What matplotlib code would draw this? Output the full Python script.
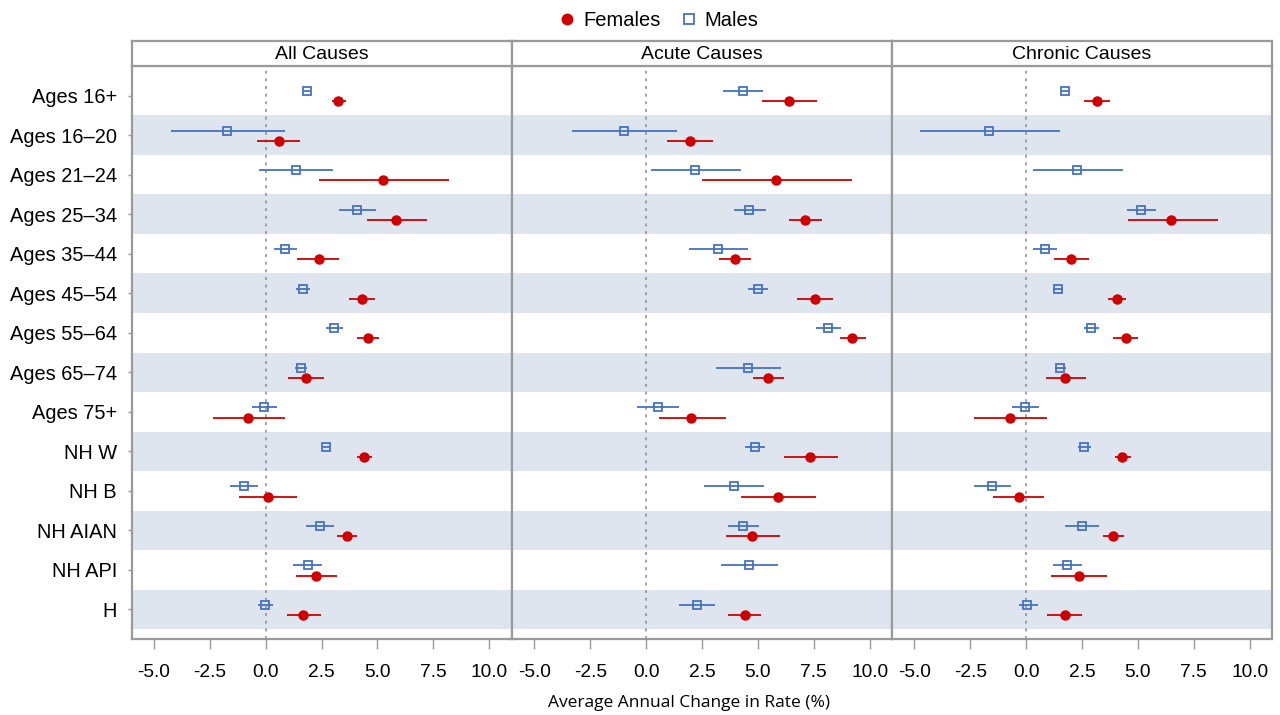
import numpy as np
import matplotlib.pyplot as plt
from matplotlib.lines import Line2D

groups = ["Ages 16+", "Ages 16–20", "Ages 21–24", "Ages 25–34", "Ages 35–44", "Ages 45–54",
          "Ages 55–64", "Ages 65–74", "Ages 75+", "NH W", "NH B", "NH AIAN", "NH API", "H"]
panels = ["All Causes", "Acute Causes", "Chronic Causes"]

# average annual change (%) with 95% CI; nan = not shown
all_f = [3.25, 0.6, 5.23, 5.84, 2.37, 4.29, 4.58, 1.8, -0.79, 4.41, 0.09, 3.62, 2.25, 1.69]
all_f_lo = [2.97, -0.39, 2.40, 4.52, 1.42, 3.74, 4.08, 0.98, -2.37, 4.11, -1.19, 3.2, 1.37, 0.94]
all_f_hi = [3.58, 1.55, 8.20, 7.21, 3.28, 4.9, 5.07, 2.62, 0.87, 4.74, 1.4, 4.08, 3.19, 2.49]
all_m = [1.83, -1.71, 1.34, 4.11, 0.87, 1.66, 3.07, 1.57, -0.06, 2.71, -0.97, 2.43, 1.88, -0.03]
all_m_lo = [1.68, -4.22, -0.28, 3.3, 0.36, 1.36, 2.7, 1.3, -0.63, 2.55, -1.59, 1.82, 1.24, -0.36]
all_m_hi = [1.98, 0.87, 3.01, 4.96, 1.39, 1.98, 3.46, 1.85, 0.51, 2.89, -0.33, 3.06, 2.52, 0.33]

acute_f = [6.41, 1.98, 5.8, 7.12, 3.98, 7.57, 9.22, 5.45, 2.03, 7.35, 5.9, 4.75, np.nan, 4.41]
acute_f_lo = [5.19, 0.95, 2.52, 6.41, 3.28, 6.75, 8.66, 4.8, 0.57, 6.17, 4.26, 3.56, np.nan, 3.68]
acute_f_hi = [7.63, 2.98, 9.21, 7.87, 4.68, 8.37, 9.82, 6.16, 3.58, 8.57, 7.6, 5.97, np.nan, 5.13]
acute_m = [4.32, -1.0, 2.2, 4.62, 3.2, 4.99, 8.15, 4.56, 0.52, 4.86, 3.93, 4.35, 4.6, 2.28]
acute_m_lo = [3.46, -3.32, 0.22, 3.92, 1.91, 4.57, 7.61, 3.13, -0.4, 4.43, 2.59, 3.67, 3.37, 1.48]
acute_m_hi = [5.22, 1.37, 4.23, 5.35, 4.54, 5.44, 8.7, 6.03, 1.48, 5.31, 5.29, 5.04, 5.89, 3.1]

chronic_f = [3.19, np.nan, np.nan, 6.5, 2.03, 4.07, 4.45, 1.76, -0.73, 4.29, -0.34, 3.9, 2.35, 1.76]
chronic_f_lo = [2.61, np.nan, np.nan, 4.56, 1.25, 3.68, 3.89, 0.91, -2.34, 3.99, -1.46, 3.46, 1.12, 0.94]
chronic_f_hi = [3.74, np.nan, np.nan, 8.57, 2.8, 4.47, 4.99, 2.67, 0.92, 4.68, 0.82, 4.37, 3.61, 2.52]
chronic_m = [1.73, -1.68, 2.29, 5.14, 0.85, 1.42, 2.92, 1.53, -0.03, 2.61, -1.52, 2.5, 1.85, 0.06]
chronic_m_lo = [1.58, -4.75, 0.3, 4.5, 0.33, 1.21, 2.6, 1.28, -0.61, 2.31, -2.31, 1.74, 1.21, -0.34]
chronic_m_hi = [1.88, 1.51, 4.34, 5.8, 1.4, 1.63, 3.28, 1.8, 0.57, 2.9, -0.69, 3.28, 2.49, 0.52]

female_sets = [(all_f, all_f_lo, all_f_hi), (acute_f, acute_f_lo, acute_f_hi),
               (chronic_f, chronic_f_lo, chronic_f_hi)]
male_sets = [(all_m, all_m_lo, all_m_hi), (acute_m, acute_m_lo, acute_m_hi),
             (chronic_m, chronic_m_lo, chronic_m_hi)]

red = "#d00000"
blue = "#4472c4"
band = "#dfe5ef"
edge = "#9a9a9a"
plt.rcParams["font.family"] = ["Liberation Sans", "DejaVu Sans"]

fig = plt.figure(figsize=(12.8, 7.15), dpi=100)
y = np.arange(len(groups))
lefts = [131.5, 512, 892]
pw = 380
bottom, top = 639, 66

for k in range(3):
    ax = fig.add_axes([lefts[k] / 1280, 1 - bottom / 715, pw / 1280, (bottom - top) / 715])
    for i in range(1, len(groups), 2):
        ax.axhspan(i - 0.5, i + 0.5, color=band, lw=0, zorder=0)
    ax.axvline(0, color="#8c8c8c", ls=(0, (2, 3)), lw=1.1, zorder=1)

    f, flo, fhi = [np.array(a, dtype=float) for a in female_sets[k]]
    m, mlo, mhi = [np.array(a, dtype=float) for a in male_sets[k]]
    ym = y - 0.11
    yf = y + 0.145
    ax.hlines(ym, mlo, mhi, color=blue, lw=1.3, zorder=2)
    ax.plot(m, ym, ls="none", marker="s", ms=6, mfc="none", mec=blue, mew=1.3, zorder=3)
    ax.hlines(yf, flo, fhi, color=red, lw=1.3, zorder=2)
    ax.plot(f, yf, ls="none", marker="o", ms=6.5, color=red, zorder=3)

    ax.set_xlim(-6, 11)
    ax.set_ylim(len(groups) - 0.25, -0.75)
    ax.set_xticks([-5, -2.5, 0, 2.5, 5, 7.5, 10])
    ax.set_xticklabels(["%.1f" % v for v in [-5, -2.5, 0, 2.5, 5, 7.5, 10]], fontsize=13.8)
    ax.tick_params(axis="x", length=7, width=1, color=edge, pad=11)
    ax.set_yticks(y)
    if k == 0:
        ax.set_yticklabels(groups, fontsize=14.4)
        ax.tick_params(axis="y", length=3, width=1, color=edge, pad=7.5)
    else:
        ax.set_yticklabels([])
        ax.tick_params(axis="y", length=0)
    for s in ax.spines.values():
        s.set_color(edge)
        s.set_linewidth(1.6)

    hx = fig.add_axes([lefts[k] / 1280, 1 - top / 715, pw / 1280, 25 / 715])
    hx.set_xticks([])
    hx.set_yticks([])
    for s in hx.spines.values():
        s.set_color(edge)
        s.set_linewidth(1.6)
    hx.text(0.5, 0.45, panels[k], ha="center", va="center", fontsize=14, transform=hx.transAxes)

handles = [Line2D([], [], ls="none", marker="o", ms=7.5, color=red, label="Females"),
           Line2D([], [], ls="none", marker="s", ms=7.5, mfc="none", mec=blue, mew=1.3, label="Males")]
fig.legend(handles=handles, loc="center", bbox_to_anchor=(0.513, 0.971), ncol=2, frameon=False,
           fontsize=14.5, handletextpad=0.2, columnspacing=0.8, handlelength=1.2)

fig.text(0.538, 0.0168, "Average Annual Change in Rate (%)", ha="center", va="center",
         fontsize=12.5, family=["Open Sans", "DejaVu Sans"])

plt.savefig("out.png", dpi=100)
